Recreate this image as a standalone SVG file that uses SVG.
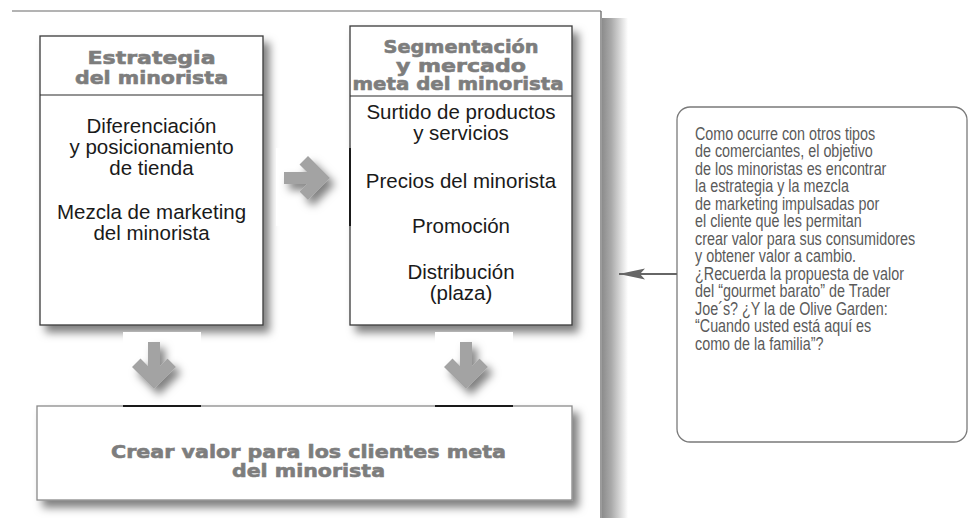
<svg xmlns="http://www.w3.org/2000/svg" width="974" height="518" viewBox="0 0 974 518">
  <defs>
    <filter id="boxShadow" x="-10%" y="-10%" width="130%" height="130%">
      <feDropShadow dx="6" dy="7" stdDeviation="4" flood-color="#000" flood-opacity="0.5"/>
    </filter>
    <filter id="arrowShadow" x="-40%" y="-40%" width="180%" height="180%">
      <feDropShadow dx="5" dy="6" stdDeviation="4" flood-color="#000" flood-opacity="0.5"/>
    </filter>
    <linearGradient id="frameShadow" x1="0" y1="0" x2="1" y2="0">
      <stop offset="0" stop-color="#8c8c8c"/>
      <stop offset="0.35" stop-color="#a9a9a9"/>
      <stop offset="1" stop-color="#ffffff"/>
    </linearGradient>
    <marker id="barb" markerWidth="28" markerHeight="14" refX="27" refY="7" orient="auto" markerUnits="userSpaceOnUse">
      <path d="M27,7 L1,1.5 L6,7 L1,12.5 Z" fill="#666"/>
    </marker>
    <style>
      .box { fill: #fff; stroke: #3a3a3a; stroke-width: 1.3; }
      .vbox { fill: #fff; stroke: #8a8a8a; stroke-width: 1.3; }
      .sep { stroke: #2a2a2a; stroke-width: 1.2; }
      .head { font-family: "DejaVu Sans", "Liberation Sans", sans-serif; font-weight: bold; font-size: 18px; fill: #7d7d7d; stroke: #7d7d7d; stroke-width: 0.6; text-anchor: middle; }
      .body { font-family: "Liberation Sans", Arial, sans-serif; font-size: 20.5px; fill: #1a1a1a; text-anchor: middle; }
      .note { font-family: "Liberation Sans", Arial, sans-serif; font-size: 17.5px; fill: #5a5a5a; }
      .blk { fill: #a3a3a3; }
      .bg { fill: #fff; }
      .art { stroke: #1a1a1a; stroke-width: 2; }
    </style>
  </defs>

  <rect width="974" height="518" fill="#fff"/>

  <g id="frame">
    <rect x="602" y="18" width="26" height="500" fill="url(#frameShadow)"/>
    <line x1="12" y1="11" x2="601" y2="11" stroke="#9a9a9a" stroke-width="1.5"/>
    <line x1="601" y1="11" x2="601" y2="518" stroke="#666" stroke-width="1.3"/>
  </g>

  <g id="node-strategy">
    <rect class="box" x="40" y="36" width="223" height="289" filter="url(#boxShadow)"/>
    <line class="sep" x1="40" y1="95" x2="263" y2="95"/>
    <text class="head" x="151.5" y="64" textLength="128" lengthAdjust="spacingAndGlyphs">Estrategia</text>
    <text class="head" x="151.5" y="84" textLength="153" lengthAdjust="spacingAndGlyphs">del minorista</text>
    <text class="body" x="151.5" y="133">Diferenciación</text>
    <text class="body" x="151.5" y="154">y posicionamiento</text>
    <text class="body" x="151.5" y="175">de tienda</text>
    <text class="body" x="151.5" y="219">Mezcla de marketing</text>
    <text class="body" x="151.5" y="240">del minorista</text>
  </g>

  <g id="node-segment">
    <rect class="box" x="350" y="26" width="222" height="299" filter="url(#boxShadow)" stroke="#4a4a4a"/>
    <line class="sep" x1="350" y1="96" x2="572" y2="96"/>
    <text class="head" x="461" y="52.5" textLength="155" lengthAdjust="spacingAndGlyphs">Segmentación</text>
    <text class="head" x="461" y="71.5" textLength="130" lengthAdjust="spacingAndGlyphs">y mercado</text>
    <text class="head" x="458" y="90" textLength="211" lengthAdjust="spacingAndGlyphs">meta del minorista</text>
    <text class="body" x="461" y="119">Surtido de productos</text>
    <text class="body" x="461" y="140">y servicios</text>
    <text class="body" x="461" y="188">Precios del minorista</text>
    <text class="body" x="461" y="233">Promoción</text>
    <text class="body" x="461" y="279">Distribución</text>
    <text class="body" x="461" y="300">(plaza)</text>
  </g>

  <g id="node-value">
    <rect class="vbox" x="37" y="406" width="535" height="94" filter="url(#boxShadow)"/>
    <text class="head" x="308.5" y="458" textLength="395" lengthAdjust="spacingAndGlyphs">Crear valor para los clientes meta</text>
    <text class="head" x="308.5" y="477" textLength="153" lengthAdjust="spacingAndGlyphs">del minorista</text>
  </g>

  <g id="node-callout">
    <rect x="677" y="107" width="290" height="335" rx="13" ry="13" fill="#fff" stroke="#7a7a7a" stroke-width="1.3"/>
    <g transform="translate(695,0) scale(0.82,1)">
      <text class="note" x="0" y="140">Como ocurre con otros tipos</text>
      <text class="note" x="0" y="157.5">de comerciantes, el objetivo</text>
      <text class="note" x="0" y="175">de los minoristas es encontrar</text>
      <text class="note" x="0" y="192.5">la estrategia y la mezcla</text>
      <text class="note" x="0" y="210">de marketing impulsadas por</text>
      <text class="note" x="0" y="227.5">el cliente que les permitan</text>
      <text class="note" x="0" y="245">crear valor para sus consumidores</text>
      <text class="note" x="0" y="262.5">y obtener valor a cambio.</text>
      <text class="note" x="0" y="280">¿Recuerda la propuesta de valor</text>
      <text class="note" x="0" y="297.5">del “gourmet barato” de Trader</text>
      <text class="note" x="0" y="315">Joe´s? ¿Y la de Olive Garden:</text>
      <text class="note" x="0" y="332.5">“Cuando usted está aquí es</text>
      <text class="note" x="0" y="350">como de la familia”?</text>
    </g>
  </g>

  <g id="connectors">
    <!-- strategy -> segment -->
    <rect class="bg" x="276" y="148" width="74" height="78"/>
    <line class="art" x1="350" y1="148" x2="350" y2="226" stroke-width="1.5"/>
    <polygon class="blk" filter="url(#arrowShadow)" points="284,172 307,172 299.5,164.5 308,156 330,178 308,200 299.5,191.5 307,184 284,184"/>
    <!-- strategy -> value -->
    <rect class="bg" x="123" y="332" width="78" height="74"/>
    <line class="art" x1="123" y1="406" x2="201" y2="406"/>
    <polygon class="blk" filter="url(#arrowShadow)" points="148,342 160,342 160,366 167.5,358.5 176,367 154,389 132,367 140.5,358.5 148,366"/>
    <!-- segment -> value -->
    <rect class="bg" x="435" y="332" width="78" height="74"/>
    <line class="art" x1="435" y1="406" x2="513" y2="406"/>
    <polygon class="blk" filter="url(#arrowShadow)" points="460,342 472,342 472,366 479.5,358.5 488,367 466,389 444,367 452.5,358.5 460,366"/>
    <!-- callout -> diagram -->
    <line x1="677" y1="274" x2="619" y2="274" stroke="#666" stroke-width="2" marker-end="url(#barb)"/>
  </g>
</svg>
